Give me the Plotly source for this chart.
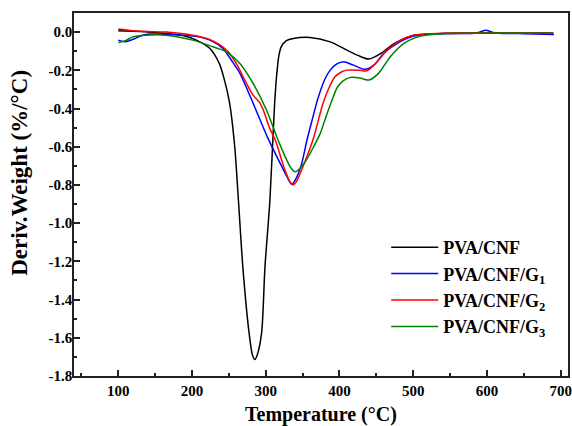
import plotly.graph_objects as go

# ---- data ----
names = ["PVA/CNF", "PVA/CNF/G<sub>1</sub>", "PVA/CNF/G<sub>2</sub>", "PVA/CNF/G<sub>3</sub>"]
colors = ["#000000", "#0000ff", "#ff0000", "#008000"]

t_cnf = [100, 130, 165, 190, 206, 224, 237, 244, 251, 258, 263, 269, 277.5, 282, 285.3, 288.5,
         294.4, 299, 305.7, 312, 315, 318, 321, 328, 337.5, 360, 387.5, 410, 425, 440, 456,
         474, 490, 501, 530, 600, 690]
d_cnf = [0.007, 0.003, -0.007, -0.02, -0.042, -0.085, -0.164, -0.25, -0.37, -0.6, -0.88, -1.23,
         -1.576, -1.69, -1.714, -1.69, -1.576, -1.23, -0.88, -0.38, -0.22, -0.12, -0.077, -0.045,
         -0.033, -0.028, -0.051, -0.094, -0.122, -0.141, -0.112, -0.06, -0.03, -0.016, -0.008,
         -0.006, -0.005]

t_g1 = [100, 110, 122, 133, 142, 170, 195, 210, 228.5, 242, 254, 265, 283, 303, 320, 330, 335.3,
        340, 348, 356, 363, 371, 381, 387.5, 396, 405.6, 419, 435, 446.5, 460, 478, 501, 546,
        580, 590, 598.6, 607, 620, 650, 691]
d_g1 = [-0.042, -0.05, -0.035, -0.016, -0.01, -0.012, -0.018, -0.025, -0.05, -0.085, -0.15,
        -0.216, -0.373, -0.555, -0.69, -0.765, -0.797, -0.775, -0.70, -0.565, -0.46, -0.345,
        -0.24, -0.199, -0.168, -0.155, -0.173, -0.195, -0.173, -0.112, -0.06, -0.021, -0.007,
        -0.007, 0.0, 0.01, 0.0, -0.007, -0.008, -0.012]

t_g2 = [100, 120, 165, 201, 224, 247, 260, 274, 283, 292, 297, 305, 313, 325, 333, 337.5, 342,
        352, 364, 378, 386, 394, 402, 410, 428, 437, 449, 465, 483, 501, 540, 690]
d_g2 = [0.016, 0.007, 0.0, -0.016, -0.038, -0.094, -0.164, -0.269, -0.33, -0.37, -0.41, -0.50,
        -0.565, -0.71, -0.785, -0.80, -0.78, -0.69, -0.565, -0.37, -0.29, -0.234, -0.21, -0.199,
        -0.20, -0.203, -0.164, -0.094, -0.042, -0.016, -0.006, -0.005]

t_g3 = [100, 110, 119.5, 137.7, 165, 201, 228.5, 246.7, 265, 283, 301, 315, 325, 334, 339.8,
        346, 355, 365, 374, 382, 390, 397, 405, 415, 428, 440, 453, 469, 487, 510, 540, 690]
d_g3 = [-0.054, -0.045, -0.025, -0.016, -0.016, -0.042, -0.077, -0.103, -0.164, -0.269, -0.408,
        -0.548, -0.64, -0.71, -0.731, -0.715, -0.67, -0.60, -0.53, -0.44, -0.355, -0.29, -0.255,
        -0.237, -0.24, -0.251, -0.216, -0.129, -0.06, -0.021, -0.008, -0.006]

x_tick_vals = [100, 200, 300, 400, 500, 600, 700]
y_tick_vals = [0.0, -0.2, -0.4, -0.6, -0.8, -1.0, -1.2, -1.4, -1.6, -1.8]
y_tick_text = ["0.0", "-0.2", "-0.4", "-0.6", "-0.8", "-1.0", "-1.2", "-1.4", "-1.6", "-1.8"]

series = [(t_cnf, d_cnf), (t_g1, d_g1), (t_g2, d_g2), (t_g3, d_g3)]

FONT = "Liberation Serif, Times New Roman, serif"

fig = go.Figure()
for i, ((xs, ys), nm, c) in enumerate(zip(series, names, colors)):
    fig.add_trace(go.Scatter(x=xs, y=ys, mode="lines", name=nm, legendgroup=str(i),
                             line=dict(color=c, width=1.5, shape="spline", smoothing=0.8)))

axis_common = dict(showline=True, linecolor="#222", linewidth=1.5, mirror=True,
                   ticks="inside", ticklen=6, tickwidth=1.5, tickcolor="#222",
                   showgrid=False, zeroline=False, automargin=False,
                   tickfont=dict(family=FONT, size=15, color="black", weight="bold"))

fig.update_layout(
    width=572, height=426,
    margin=dict(l=74, r=4, t=13, b=50, autoexpand=False),
    paper_bgcolor="white", plot_bgcolor="white",
    font=dict(family=FONT, color="black", weight="bold"),
    xaxis=dict(range=[40, 710], tickvals=x_tick_vals,
               minor=dict(ticks="inside", ticklen=3, tickwidth=1.5, tickcolor="#222", dtick=50, tick0=0),
               **axis_common),
    yaxis=dict(range=[-1.8, 0.1], tickvals=y_tick_vals, ticktext=y_tick_text, ticklabelstandoff=-3,
               minor=dict(ticks="inside", ticklen=3, tickwidth=1.5, tickcolor="#222", dtick=0.1, tick0=0),
               **axis_common),
    legend=dict(x=0.632, y=0.405, xanchor="left", yanchor="top", bgcolor="rgba(0,0,0,0)",
                itemwidth=47,
                font=dict(family=FONT, size=18, color="black", weight="bold"), tracegroupgap=0),
    showlegend=True,
    annotations=[
        dict(text="Deriv.Weight (%/°C)", textangle=-90, xref="paper", yref="paper",
             x=-0.109, y=0.56, xanchor="center", yanchor="middle", showarrow=False,
             font=dict(family=FONT, size=23, color="black", weight="bold")),
        dict(text="Temperature (°C)", xref="paper", yref="paper",
             x=0.5, y=-0.105, xanchor="center", yanchor="middle", showarrow=False,
             font=dict(family=FONT, size=20, color="black", weight="bold")),
    ],
)

fig.write_html("out.html", post_script="document.body.style.margin='0';",
               config={"displayModeBar": False})
